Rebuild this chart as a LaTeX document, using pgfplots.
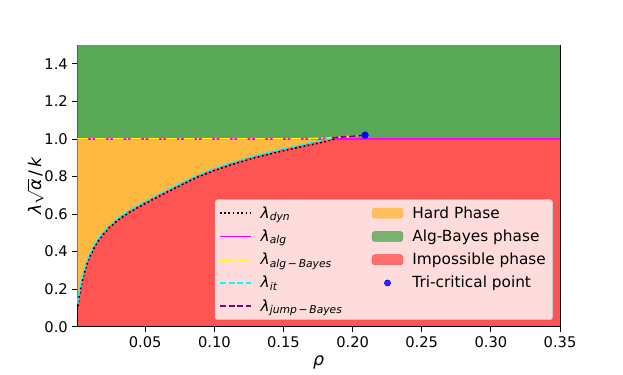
\documentclass[border=0pt]{standalone}
\usepackage{pgfplots}
\pgfplotsset{compat=1.18}
\usepackage{fontspec}
\setmainfont{DejaVu Sans}
\definecolor{redC}{RGB}{255,84,84}
\definecolor{orangeC}{RGB}{255,184,64}
\definecolor{greenC}{RGB}{89,168,86}
\definecolor{purpleC}{RGB}{128,0,128}
\definecolor{cyanC}{RGB}{0,255,255}
\definecolor{magentaC}{RGB}{255,0,255}
\definecolor{yellowC}{RGB}{255,255,0}
\definecolor{blueC}{RGB}{0,0,255}
\pgfplotsset{
  myline legend/.style={legend image code/.code={\draw[##1] (0pt,0pt) -- (23pt,0pt);}},
  myarea legend/.style={legend image code/.code={\draw[##1] (0pt,-3.75pt) rectangle (23pt,3.75pt);}},
  mydot legend/.style={legend image code/.code={\fill[##1] (11.5pt,0pt) circle (2.3pt);}},
}
\pgfplotstableread{
rho lam
0.001 0.12
0.002 0.175
0.003 0.215
0.0045 0.265
0.0064 0.318
0.009 0.375
0.0137 0.445
0.018 0.49
0.0233 0.535
0.03 0.578
0.038 0.618
0.048 0.66
0.0631 0.718
0.075 0.762
0.0873 0.806
0.1 0.843
0.112 0.873
0.128 0.908
0.14 0.93
0.1524 0.952
0.165 0.972
0.1765 0.99
0.181 0.998
0.184 1.0
}\itcurve
\pgfplotstableread{
rho lam
0.0014 0.11
0.0024 0.165
0.0034 0.205
0.0049 0.255
0.0068 0.308
0.0094 0.365
0.0141 0.435
0.0184 0.48
0.0237 0.525
0.0304 0.568
0.0384 0.608
0.0484 0.65
0.0635 0.708
0.0754 0.752
0.0877 0.796
0.1004 0.833
0.1124 0.863
0.1284 0.898
0.1404 0.92
0.1528 0.942
0.1654 0.962
0.1769 0.98
0.1814 0.988
0.187 0.999
}\dyncurve
\begin{document}
\begin{tikzpicture}[font=\fontsize{11}{13}\selectfont]
\path[use as bounding box] (-58.1pt,-35.5pt) rectangle (409.15pt,245.05pt);
\begin{axis}[
  at={(0pt,0pt)}, anchor=south west,
  scale only axis, width=361.9pt, height=211.3pt,
  xmin=0.001, xmax=0.35, ymin=0, ymax=1.5,
  axis background/.style={fill=redC},
  xtick={0.05,0.10,0.15,0.20,0.25,0.30,0.35},
  ytick={0,0.2,0.4,0.6,0.8,1.0,1.2,1.4},
  scaled x ticks=false, scaled y ticks=false,
  xticklabel style={/pgf/number format/.cd, fixed, fixed zerofill, precision=2, assume math mode=true},
  yticklabel style={/pgf/number format/.cd, fixed, fixed zerofill, precision=1, assume math mode=true},
  tick align=outside, major tick length=3.75pt,
  tick style={black, line width=0.6pt},
  axis line style={line width=0.6pt},
  xtick pos=bottom, ytick pos=left,
  xlabel={\fontsize{13}{15}\selectfont\textit{ρ}},
  ylabel={\fontsize{13}{15}\selectfont\textit{λ}$\sqrt{\hbox{\textit{α}}}$\,/\,\textit{k}},
  xlabel style={at={(axis description cs:0.5,-0.128)}, anchor=center},
  ylabel style={at={(axis description cs:-0.087,0.5)}, anchor=center},
  transpose legend, legend columns=5,
  legend style={at={(axis description cs:0.985,0.024)}, anchor=south east,
    fill=white, fill opacity=0.8, text opacity=1, draw=white!80!black,
    rounded corners=2pt, font=\fontsize{11.5}{13}\selectfont,
    cells={anchor=west}, row sep=3.2pt, inner sep=3pt,
    /tikz/every odd column/.append style={column sep=5pt},
    /tikz/every even column/.append style={column sep=20pt}},
]
% regions
\addplot[fill=greenC, draw=none, forget plot] coordinates {(0.001,1) (0.35,1) (0.35,1.5) (0.001,1.5)} -- cycle;
\addplot[fill=orangeC, draw=none, forget plot] table[x=rho, y=lam] {\itcurve} -- (axis cs:0.001,1.0) -- cycle;
% lambda_alg
\addplot[magentaC, line width=1.2pt, forget plot] coordinates {(0.001,1.0) (0.35,1.0)};
% lambda_alg-Bayes
\addplot[yellowC, line width=1.2pt, dash pattern=on 8pt off 2pt on 1.3pt off 2pt, forget plot] coordinates {(0.001,1.0) (0.165,1.0) (0.181,1.004) (0.209,1.02)};
% lambda_dyn
\addplot[black, line width=1.2pt, dash pattern=on 1.2pt off 2pt, forget plot] table[x=rho, y=lam] {\dyncurve};
% lambda_it
\addplot[cyanC, line width=1.2pt, dash pattern=on 4.5pt off 2pt, forget plot] table[x=rho, y=lam] {\itcurve};
% lambda_jump-Bayes
\addplot[purpleC, line width=1.2pt, dash pattern=on 4.5pt off 2pt, forget plot] coordinates {(0.185,1.006) (0.209,1.02)};
% tri-critical point
\addplot[only marks, mark=*, mark size=2.5pt, blueC, forget plot] coordinates {(0.209,1.02)};

% legend
\addlegendimage{myline legend, black, line width=1.2pt, dash pattern=on 1.2pt off 2pt}
\addlegendentry{\textit{λ}\textsubscript{\textit{dyn}}}
\addlegendimage{myline legend, magentaC, line width=1.2pt}
\addlegendentry{\textit{λ}\textsubscript{\textit{alg}}}
\addlegendimage{myline legend, yellowC, line width=1.2pt, dash pattern=on 8pt off 2pt on 1.3pt off 2pt}
\addlegendentry{\textit{λ}\textsubscript{\textit{alg\,−\,Bayes}}}
\addlegendimage{myline legend, cyanC, line width=1.2pt, dash pattern=on 4.5pt off 2pt}
\addlegendentry{\textit{λ}\textsubscript{\textit{it}}}
\addlegendimage{myline legend, purpleC, line width=1.2pt, dash pattern=on 4.5pt off 2pt}
\addlegendentry{\textit{λ}\textsubscript{\textit{jump\,−\,Bayes}}}
\addlegendimage{myarea legend, fill=orangeC, draw=orangeC}
\addlegendentry{Hard Phase}
\addlegendimage{myarea legend, fill=greenC, draw=greenC}
\addlegendentry{Alg-Bayes phase}
\addlegendimage{myarea legend, fill=redC, draw=redC}
\addlegendentry{Impossible phase}
\addlegendimage{mydot legend, blueC}
\addlegendentry{Tri-critical point}
\addlegendimage{empty legend}
\addlegendentry{}
\end{axis}
\end{tikzpicture}
\end{document}
